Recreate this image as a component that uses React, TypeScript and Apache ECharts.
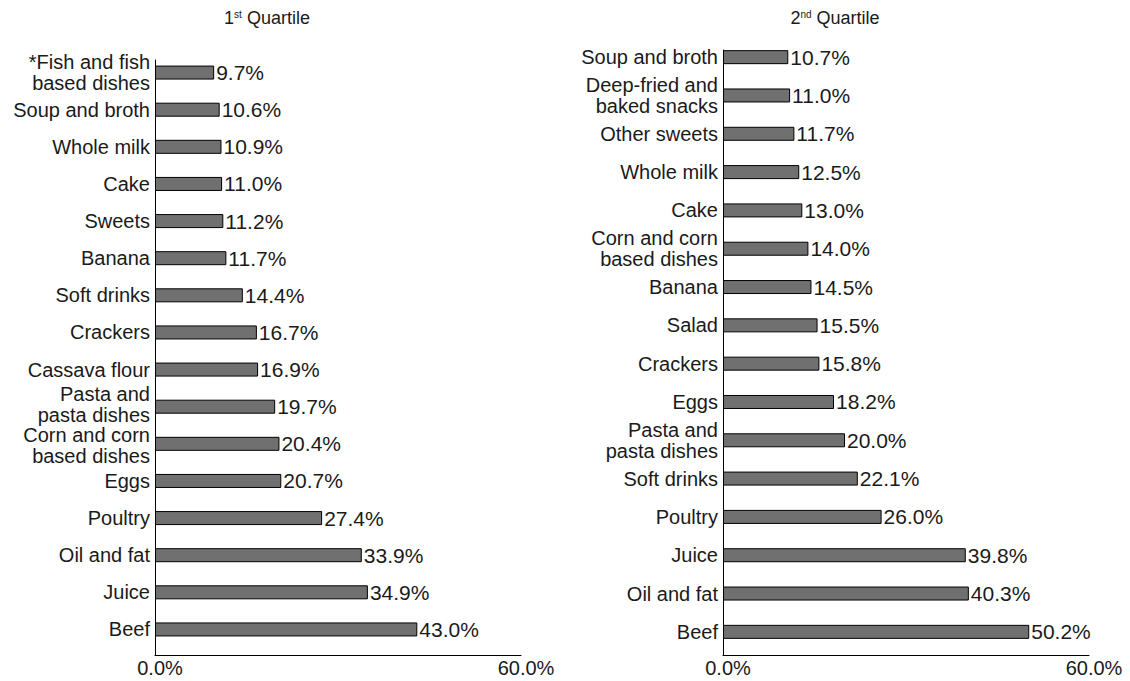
import React, { useEffect, useRef } from "react";
import * as echarts from "echarts";

const leftCats = [
  "*Fish and fish\nbased dishes",
  "Soup and broth",
  "Whole milk",
  "Cake",
  "Sweets",
  "Banana",
  "Soft drinks",
  "Crackers",
  "Cassava flour",
  "Pasta and\npasta dishes",
  "Corn and corn\nbased dishes",
  "Eggs",
  "Poultry",
  "Oil and fat",
  "Juice",
  "Beef",
];
const leftVals = [9.7, 10.6, 10.9, 11.0, 11.2, 11.7, 14.4, 16.7, 16.9, 19.7, 20.4, 20.7, 27.4, 33.9, 34.9, 43.0];

const rightCats = [
  "Soup and broth",
  "Deep-fried and\nbaked snacks",
  "Other sweets",
  "Whole milk",
  "Cake",
  "Corn and corn\nbased dishes",
  "Banana",
  "Salad",
  "Crackers",
  "Eggs",
  "Pasta and\npasta dishes",
  "Soft drinks",
  "Poultry",
  "Juice",
  "Oil and fat",
  "Beef",
];
const rightVals = [10.7, 11.0, 11.7, 12.5, 13.0, 14.0, 14.5, 15.5, 15.8, 18.2, 20.0, 22.1, 26.0, 39.8, 40.3, 50.2];

const xTicks = [0, 60];

const FONT = "Liberation Sans";
const TXT = "#1a1a1a";
const FS = 20;
const LH = 21;

export default function App() {
  const ref = useRef<HTMLDivElement>(null);
  useEffect(() => {
    document.body.style.margin = "0";
    const chart = echarts.init(ref.current!, null, { renderer: "svg" });
    const barSeries = (vals: number[], xi: number, yi: number) => ({
      type: "bar",
      xAxisIndex: xi,
      yAxisIndex: yi,
      data: vals,
      barWidth: 14,
      itemStyle: { color: "#707070", borderColor: "#000", borderWidth: 1 },
      label: {
        show: true,
        position: "right",
        distance: 2,
        fontFamily: FONT,
        fontSize: 21,
        color: TXT,
        formatter: (p: any) => p.value.toFixed(1) + "%",
      },
    });
    // two stacked two-line labels are nudged apart (as in the reference layout)
    const catAxis = (grid: number, cats: string[]) => ({
      type: "category",
      gridIndex: grid,
      data: cats,
      inverse: true,
      axisLine: { show: false },
      axisTick: { show: false },
      axisLabel: {
        margin: 5,
        interval: 0,
        color: TXT,
        align: "right",
        fontFamily: FONT,
        fontSize: FS,
        lineHeight: LH,
        formatter: (v: string, i: number) => {
          const multi = v.includes("\n");
          const prevMulti = i > 0 && cats[i - 1].includes("\n");
          const nextMulti = i < cats.length - 1 && cats[i + 1].includes("\n");
          const style = multi && nextMulti ? "up" : multi && prevMulti ? "down" : "n";
          return v
            .split("\n")
            .map((l) => `{${style}|${l}}`)
            .join("\n");
        },
        rich: {
          n: { fontFamily: FONT, fontSize: FS, lineHeight: LH, color: TXT, align: "right" },
          up: { fontFamily: FONT, fontSize: FS, lineHeight: LH, color: TXT, align: "right", padding: [0, 0, 4, 0] },
          down: { fontFamily: FONT, fontSize: FS, lineHeight: LH, color: TXT, align: "right", padding: [4, 0, 0, 0] },
        },
      },
    });
    const hiddenX = (grid: number) => ({
      type: "value",
      gridIndex: grid,
      min: xTicks[0],
      max: xTicks[1],
      show: false,
    });
    const visX = (grid: number) => ({
      type: "value",
      gridIndex: grid,
      min: xTicks[0],
      max: xTicks[1],
      interval: xTicks[1] - xTicks[0],
      axisLine: { show: true, onZero: false, lineStyle: { color: "#000", width: 1 } },
      axisTick: { show: false },
      splitLine: { show: false },
      axisLabel: {
        margin: 3,
        fontFamily: FONT,
        fontSize: FS,
        color: TXT,
        padding: [0, 0, 0, 10],
        formatter: (v: number) => v.toFixed(1) + "%",
      },
    });
    const visY = (grid: number) => ({
      type: "value",
      gridIndex: grid,
      min: 0,
      max: 1,
      axisLine: { show: true, onZero: false, lineStyle: { color: "#000", width: 1 } },
      axisTick: { show: false },
      splitLine: { show: false },
      axisLabel: { show: false },
    });
    const titleRich = {
      n: { fontFamily: FONT, fontSize: 18, fontWeight: "normal", color: TXT, lineHeight: 20 },
      s: { fontFamily: FONT, fontSize: 10, fontWeight: "normal", color: TXT, lineHeight: 20, padding: [0, 0, 8, 0] },
    };
    chart.setOption({
      animation: false,
      title: [
        {
          text: "{n|1}{s|st}{n| Quartile}",
          left: 262,
          top: 3,
          textAlign: "center",
          textStyle: { fontWeight: "normal", rich: titleRich },
        },
        {
          text: "{n|2}{s|nd}{n| Quartile}",
          left: 830,
          top: 3,
          textAlign: "center",
          textStyle: { fontWeight: "normal", rich: titleRich },
        },
      ],
      grid: [
        { left: 155, width: 366, top: 54, height: 594 },
        { left: 155, width: 366, top: 60, height: 595 },
        { left: 723, width: 366, top: 38, height: 613 },
        { left: 723, width: 366, top: 50, height: 605 },
      ],
      xAxis: [hiddenX(0), visX(1), hiddenX(2), visX(3)],
      yAxis: [catAxis(0, leftCats), visY(1), catAxis(2, rightCats), visY(3)],
      series: [barSeries(leftVals, 0, 0), barSeries(rightVals, 2, 2)],
    });
    return () => chart.dispose();
  }, []);
  return <div ref={ref} style={{ width: 1130, height: 681 }} />;
}
